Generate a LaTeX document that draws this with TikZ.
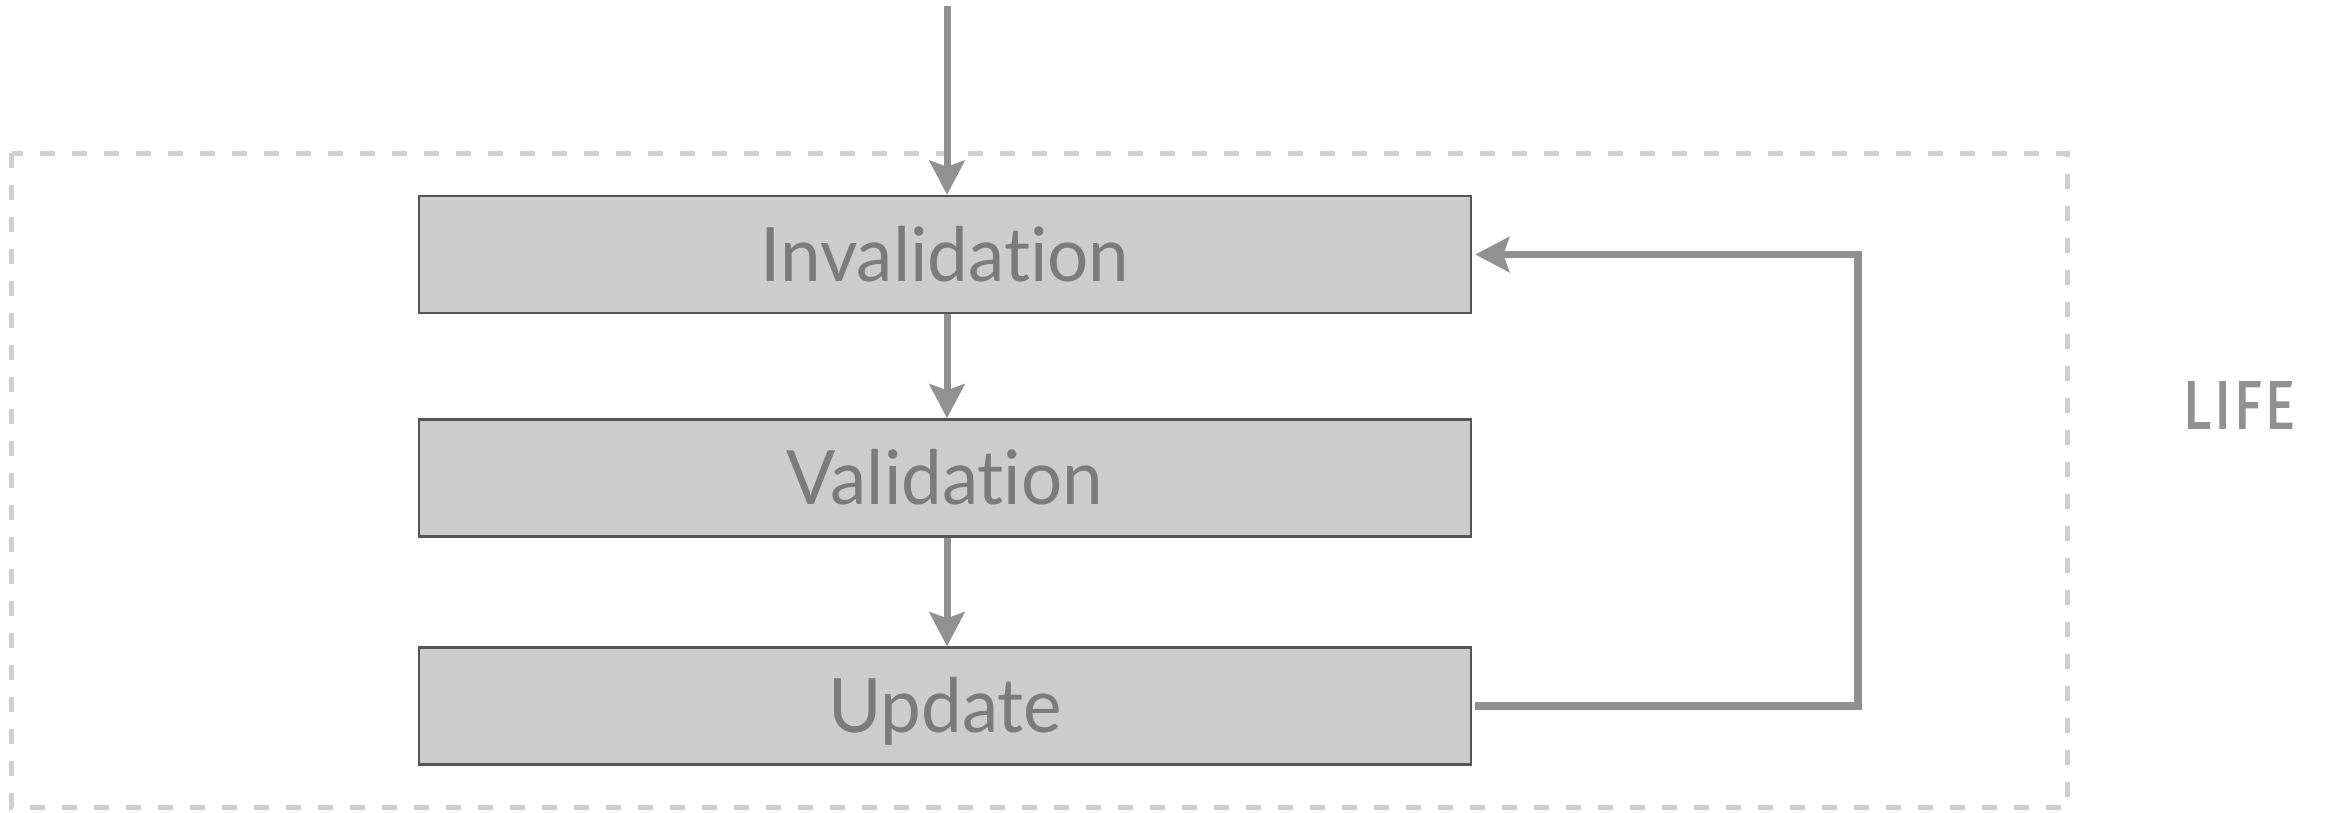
\documentclass[tikz,border=0pt]{standalone}
\usepackage{fontspec}
\setmainfont{Lato}[Ligatures={NoCommon}, FakeStretch=0.97]
\newfontfamily\lifefont[FakeStretch=0.82, FakeBold=1.6, LetterSpace=5]{Fira Sans}
\usetikzlibrary{arrows.meta}
\definecolor{boxfill}{HTML}{CCCCCC}
\definecolor{boxline}{HTML}{555555}
\definecolor{txtgray}{HTML}{7B7B7B}
\definecolor{arrgray}{HTML}{919191}
\definecolor{dashgray}{HTML}{CFCFCF}
\tikzset{
  stagebox/.style={draw=boxline, line width=2.5pt, fill=boxfill, minimum width=1052pt, minimum height=117pt, inner sep=0pt, text height=53.7pt, text depth=0pt, text=txtgray, font=\fontsize{75}{80}\selectfont},
  flowarrow/.style={draw=arrgray, line width=7pt, -{Stealth[length=34pt, width=35pt, inset=6pt]}},
  flowline/.style={draw=arrgray, line width=7.5pt},
  lifebox/.style={draw=dashgray, line width=5pt, dash pattern=on 15pt off 17pt},
}
\begin{document}
\begin{tikzpicture}[x=1pt, y=-1pt]
\useasboundingbox (0,0) rectangle (2328,812);
\draw[lifebox] (11.5,153) rectangle (2067,807);
\node[stagebox] (inv) at (945,254.5) {Invalidation};
\node[stagebox] (val) at (945,478) {Validation};
\node[stagebox] (upd) at (945,706) {Update};
\coordinate (src) at (947,6);
\coordinate (cr) at (1858,0);
\draw[flowarrow] (src) -- (src |- inv.north);
\draw[flowarrow] (inv.south -| src) -- (val.north -| src);
\draw[flowarrow] (val.south -| src) -- (upd.north -| src);
\draw[flowline] ([xshift=3pt]upd.east) -- (cr |- upd.east);
\draw[flowline, line cap=rect] (cr |- upd.east) -- (cr |- inv.east);
\draw[flowarrow] (cr |- inv.east) -- ([xshift=3pt]inv.east);
\node[text=arrgray, font=\lifefont\fontsize{68}{70}\selectfont, inner sep=0pt] (life) at (2239,405) {LIFE};
\end{tikzpicture}
\end{document}
